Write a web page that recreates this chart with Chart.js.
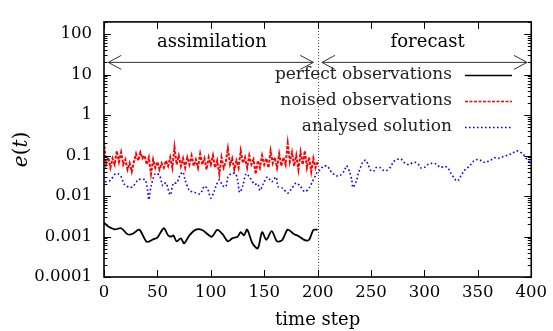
<!DOCTYPE html>
<html>
<head>
<meta charset="utf-8">
<script src="https://cdn.jsdelivr.net/npm/chart.js@4.4.0/dist/chart.umd.min.js"></script>
<style>
  html, body { margin: 0; padding: 0; background: #fff; }
  #wrap { width: 553px; height: 331px; }
</style>
</head>
<body>
<div id="wrap"><canvas id="errChart"></canvas></div>
<script>
// ── data ──
const xTicks = [0, 50, 100, 150, 200, 250, 300, 350, 400];
const yTicks = [0.0001, 0.001, 0.01, 0.1, 1, 10, 100];
const splitStep = 200;

const perfectT = [0, 4, 10, 16, 22, 27, 33, 40, 46, 50, 56, 60, 63, 65, 68, 72, 75, 80, 86, 92, 97, 101, 106, 111, 116,
    120, 125, 128, 131, 134, 139, 144, 148, 152, 157, 162, 167, 172, 178, 182, 188, 192, 196, 200];
const perfectE = [0.0022, 0.00176, 0.0015, 0.0016, 0.00114, 0.00117, 0.00148, 0.00074, 0.00085, 0.00094, 0.0016, 0.00107,
    0.00099, 0.00107, 0.00076, 0.0009, 0.00068, 0.00107, 0.00148, 0.00145, 0.00114, 0.00099, 0.00145, 0.00114, 0.00076,
    0.0009, 0.00099, 0.00128, 0.00107, 0.00148, 0.00068, 0.00051, 0.00128, 0.00083, 0.00136, 0.00076, 0.00083, 0.00148,
    0.00114, 0.00103, 0.00081, 0.00083, 0.00145, 0.00148];

// noised observations, every 2nd step from 0 to 200
const noisedE = [0.22, 0.06, 0.09, 0.05, 0.085, 0.06, 0.13, 0.07, 0.12, 0.06, 0.08, 0.045, 0.065, 0.04, 0.07, 0.11,
    0.075, 0.12, 0.085, 0.1, 0.06, 0.09, 0.035, 0.08, 0.05, 0.07, 0.045, 0.065, 0.05, 0.075, 0.055, 0.09, 0.05, 0.16,
    0.06, 0.1, 0.055, 0.085, 0.05, 0.09, 0.06, 0.1, 0.055, 0.08, 0.05, 0.11, 0.06, 0.085, 0.045, 0.09, 0.06, 0.1, 0.05,
    0.075, 0.035, 0.09, 0.05, 0.07, 0.15, 0.06, 0.085, 0.045, 0.075, 0.05, 0.13, 0.065, 0.09, 0.05, 0.1, 0.06, 0.08,
    0.035, 0.075, 0.05, 0.1, 0.06, 0.085, 0.05, 0.13, 0.065, 0.09, 0.05, 0.11, 0.055, 0.09, 0.06, 0.2, 0.07, 0.12,
    0.055, 0.1, 0.045, 0.12, 0.06, 0.13, 0.05, 0.09, 0.04, 0.085, 0.05, 0.07];
const noisedT = noisedE.map((_, i) => i * 2);

const analysedT = [1, 6, 10, 13, 16, 19, 24, 27, 32, 37, 39, 41, 42, 44, 48, 52, 55, 58, 62, 65, 68, 71, 74, 76, 80, 85,
    90, 94, 97, 100, 103, 105, 108, 111, 114, 116, 119, 123, 125, 127, 130, 133, 136, 141, 144, 146, 149, 153, 157, 161,
    163, 167, 172, 176, 180, 184, 188, 192, 195, 198, 200, 203, 205, 209, 211, 213, 217, 221, 225, 227, 230, 232, 233,
    236, 238, 240, 242, 245, 247, 250, 253, 255, 258, 261, 264, 268, 271, 274, 278, 280, 283, 286, 289, 292, 295, 297,
    300, 304, 307, 311, 315, 319, 322, 325, 328, 330, 332, 334, 337, 340, 343, 346, 350, 354, 357, 360, 363, 366, 369,
    374, 379, 382, 386, 389, 393, 396, 400];
const analysedE = [0.0224, 0.0245, 0.034, 0.0355, 0.03, 0.0195, 0.0163, 0.017, 0.0252, 0.026, 0.0245, 0.0128, 0.0081,
    0.017, 0.036, 0.032, 0.018, 0.021, 0.0107, 0.021, 0.021, 0.032, 0.039, 0.0245, 0.0137, 0.0123, 0.0113, 0.0175, 0.015,
    0.0089, 0.0128, 0.018, 0.0252, 0.018, 0.017, 0.0295, 0.0355, 0.036, 0.0252, 0.0123, 0.018, 0.0355, 0.03, 0.0195,
    0.02, 0.0137, 0.02, 0.0295, 0.0224, 0.0295, 0.017, 0.0157, 0.0118, 0.0157, 0.021, 0.017, 0.0128, 0.0157, 0.0224,
    0.032, 0.04, 0.0455, 0.054, 0.055, 0.0465, 0.039, 0.032, 0.032, 0.042, 0.056, 0.039, 0.0245, 0.0163, 0.0224, 0.0355,
    0.049, 0.067, 0.077, 0.062, 0.042, 0.042, 0.051, 0.051, 0.044, 0.042, 0.051, 0.07, 0.08, 0.082, 0.071, 0.062, 0.06,
    0.067, 0.067, 0.058, 0.049, 0.051, 0.062, 0.064, 0.062, 0.051, 0.054, 0.049, 0.0355, 0.0275, 0.0236, 0.025, 0.031,
    0.042, 0.049, 0.058, 0.073, 0.08, 0.073, 0.067, 0.073, 0.08, 0.088, 0.085, 0.095, 0.104, 0.113, 0.13, 0.125, 0.104,
    0.08, 0.065];

const pairs = (ts, es) => ts.map((t, i) => ({ x: t, y: es[i] }));

const SERIF = "'DejaVu Serif', serif";

// ── frame, ticks, arrows, legend and titles (gnuplot look) ──
const overlay = {
    id: 'overlay',
    beforeDatasetsDraw(chart) {
        const { ctx, chartArea: a, scales: { x } } = chart;
        const xs = Math.round(x.getPixelForValue(splitStep)) + 0.5;
        ctx.save();
        ctx.strokeStyle = '#444';
        ctx.lineWidth = 1;
        ctx.setLineDash([1, 2]);
        ctx.beginPath(); ctx.moveTo(xs, a.top); ctx.lineTo(xs, a.bottom); ctx.stroke();
        ctx.restore();
    },
    afterDraw(chart) {
        const { ctx, chartArea: a, scales: { x, y } } = chart;
        ctx.save();

        // tick marks inside the frame, mirrored
        ctx.strokeStyle = '#000';
        ctx.lineWidth = 1;
        ctx.beginPath();
        xTicks.forEach(v => {
            const px = Math.round(x.getPixelForValue(v)) + 0.5;
            ctx.moveTo(px, a.bottom); ctx.lineTo(px, a.bottom - 7);
            ctx.moveTo(px, a.top); ctx.lineTo(px, a.top + 7);
        });
        yTicks.forEach(v => {
            const py = Math.round(y.getPixelForValue(v)) + 0.5;
            ctx.moveTo(a.left, py); ctx.lineTo(a.left + 7, py);
            ctx.moveTo(a.right, py); ctx.lineTo(a.right - 7, py);
            for (let m = 2; m <= 9; m++) {
                const mv = v * m;
                if (mv > y.max) break;
                const my = Math.round(y.getPixelForValue(mv)) + 0.5;
                ctx.moveTo(a.left, my); ctx.lineTo(a.left + 3.5, my);
                ctx.moveTo(a.right, my); ctx.lineTo(a.right - 3.5, my);
            }
        });
        ctx.stroke();

        // frame
        ctx.lineWidth = 1.6;
        ctx.strokeRect(a.left, a.top, a.right - a.left, a.bottom - a.top);

        // phase arrows
        const ay = y.getPixelForValue(20);
        const arrow = (t1, t2) => {
            const x1 = x.getPixelForValue(t1), x2 = x.getPixelForValue(t2);
            ctx.beginPath();
            ctx.moveTo(x1, ay); ctx.lineTo(x2, ay);
            ctx.moveTo(x1 + 13, ay - 7); ctx.lineTo(x1, ay); ctx.lineTo(x1 + 13, ay + 7);
            ctx.moveTo(x2 - 13, ay - 7); ctx.lineTo(x2, ay); ctx.lineTo(x2 - 13, ay + 7);
            ctx.stroke();
        };
        ctx.strokeStyle = '#333';
        ctx.lineWidth = 1;
        arrow(4, 196);
        arrow(204, 396);

        ctx.fillStyle = '#000';
        ctx.font = '18px ' + SERIF;
        ctx.textAlign = 'center';
        ctx.textBaseline = 'middle';
        ctx.fillText('assimilation', x.getPixelForValue(101), y.getPixelForValue(62));
        ctx.fillText('forecast', x.getPixelForValue(303), y.getPixelForValue(62));

        // legend, right aligned text with sample line
        ctx.font = '17px ' + SERIF;
        ctx.textAlign = 'right';
        chart.data.datasets.forEach((ds, i) => {
            const ry = 75 + i * 26;
            ctx.fillStyle = '#222';
            ctx.fillText(ds.label, 452, ry);
            ctx.strokeStyle = ds.borderColor;
            ctx.lineWidth = Math.min(ds.borderWidth, 1.6);
            ctx.setLineDash(ds.borderDash || []);
            ctx.beginPath(); ctx.moveTo(465, ry + 0.5); ctx.lineTo(512, ry + 0.5); ctx.stroke();
        });
        ctx.setLineDash([]);

        // axis titles
        ctx.fillStyle = '#000';
        ctx.textAlign = 'center';
        ctx.font = '18px ' + SERIF;
        ctx.fillText('time step', (a.left + a.right) / 2, 320);

        ctx.translate(22, (a.top + a.bottom) / 2);
        ctx.rotate(-Math.PI / 2);
        const parts = [['e', 'italic '], ['(', ''], ['t', 'italic '], [')', '']];
        let total = 0;
        parts.forEach(p => { ctx.font = p[1] + '20px ' + SERIF; total += ctx.measureText(p[0]).width; });
        let cx = -total / 2;
        ctx.textAlign = 'left';
        parts.forEach(p => {
            ctx.font = p[1] + '20px ' + SERIF;
            ctx.fillText(p[0], cx, 0);
            cx += ctx.measureText(p[0]).width;
        });
        ctx.restore();
    }
};

new Chart(document.getElementById('errChart'), {
    type: 'line',
    data: {
        datasets: [
            {
                label: 'perfect observations',
                data: pairs(perfectT, perfectE),
                borderColor: '#000',
                borderWidth: 1.8,
                tension: 0.3,
                pointRadius: 0
            },
            {
                label: 'noised observations',
                data: pairs(noisedT, noisedE),
                borderColor: '#ff0000',
                borderWidth: 2,
                borderDash: [3, 1.5],
                tension: 0,
                pointRadius: 0
            },
            {
                label: 'analysed solution',
                data: pairs(analysedT, analysedE),
                borderColor: '#0000ff',
                borderWidth: 1.6,
                borderDash: [1.6, 2.4],
                tension: 0.3,
                pointRadius: 0
            }
        ]
    },
    options: {
        responsive: true,
        maintainAspectRatio: false,
        animation: false,
        layout: { padding: { top: 12, right: 20, left: 0, bottom: 0 } },
        plugins: { legend: { display: false }, tooltip: { enabled: false } },
        scales: {
            x: {
                type: 'linear',
                min: 0, max: 400,
                afterBuildTicks: s => { s.ticks = xTicks.map(v => ({ value: v })); },
                afterFit: s => { s.height = 54; },
                grid: { display: false, drawTicks: false },
                border: { display: false },
                ticks: { color: '#000', padding: 6, maxRotation: 0, font: { family: SERIF, size: 16.5 } }
            },
            y: {
                type: 'logarithmic',
                min: 0.0001, max: 200,
                afterBuildTicks: s => { s.ticks = yTicks.map(v => ({ value: v })); },
                afterFit: s => { s.width = 104; },
                grid: { display: false, drawTicks: false },
                border: { display: false },
                ticks: { color: '#000', padding: 12, font: { family: SERIF, size: 16.5 }, callback: v => String(v) }
            }
        }
    },
    plugins: [overlay]
});
</script>
</body>
</html>
